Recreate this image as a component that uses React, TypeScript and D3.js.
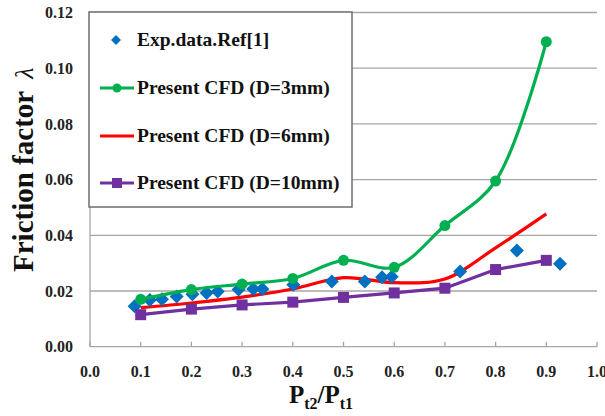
import React from "react";
import * as d3 from "d3";

const xTicks = [0, 0.1, 0.2, 0.3, 0.4, 0.5, 0.6, 0.7, 0.8, 0.9, 1.0];
const yTicks = [0, 0.02, 0.04, 0.06, 0.08, 0.1, 0.12];

const cfdX = [0.1, 0.2, 0.3, 0.4, 0.5, 0.6, 0.7, 0.8, 0.9];
const d3mm = [0.017, 0.0205, 0.0225, 0.0245, 0.031, 0.0285, 0.0435, 0.0595, 0.1095];
const d6mm = [0.014, 0.0157, 0.0178, 0.0207, 0.0248, 0.023, 0.0243, 0.0355, 0.0477];
const d10mm = [0.0115, 0.0135, 0.015, 0.016, 0.0177, 0.0193, 0.021, 0.0277, 0.031];

const expX = [0.088, 0.118, 0.142, 0.171, 0.202, 0.23, 0.252, 0.293, 0.322, 0.34, 0.401, 0.477, 0.542, 0.576, 0.595, 0.73, 0.842, 0.927];
const expY = [0.0145, 0.0168, 0.017, 0.018, 0.0188, 0.0193, 0.0198, 0.0205, 0.0207, 0.0207, 0.0222, 0.0234, 0.0234, 0.0249, 0.0251, 0.027, 0.0345, 0.0298];

const legendLabels = ["Exp.data.Ref[1]", "Present CFD (D=3mm)", "Present CFD (D=6mm)", "Present CFD (D=10mm)"];

const BLUE = "#0070C0";
const GREEN = "#00B050";
const RED = "#FF0000";
const PURPLE = "#7030A0";
const FONT = "'Liberation Serif', 'DejaVu Serif', serif";

export default function App() {
  const W = 605, H = 416;
  const x = d3.scaleLinear().domain([0, 1]).range([90, 597]);
  const y = d3.scaleLinear().domain([0, 0.12]).range([346.7, 12.5]);

  const smooth = d3.line<[number, number]>().x(d => x(d[0])).y(d => y(d[1])).curve(d3.curveCatmullRom.alpha(0.5));
  const straight = d3.line<[number, number]>().x(d => x(d[0])).y(d => y(d[1]));

  const pts = (ys: number[]) => cfdX.map((v, i) => [v, ys[i]] as [number, number]);
  const diamond = (s: number) => d3.symbol().type(d3.symbolSquare).size(s)() as string;

  const lx = 89, ly = 12, lw = 263, lh = 195;
  const rowY = [40, 88, 136, 183];

  return (
    <div style={{ fontFamily: FONT }}>
    <svg width={W} height={H} style={{ position: "absolute", left: 0, top: 0, background: "#fff", fontFamily: FONT }}>
      <rect x={0} y={0} width={W} height={H} fill="#fff" />
      {yTicks.filter(t => t > 0).map(t => (
        <line key={"g" + t} x1={x(0)} x2={x(1)} y1={y(t)} y2={y(t)} stroke="#a6a6a6" strokeWidth={1.3} />
      ))}
      <line x1={x(0)} x2={x(0)} y1={y(0.12)} y2={y(0)} stroke="#a6a6a6" strokeWidth={1.3} />
      <line x1={x(0)} x2={x(1)} y1={y(0)} y2={y(0)} stroke="#a6a6a6" strokeWidth={1.3} />
      {xTicks.map(t => (
        <line key={"xt" + t} x1={x(t)} x2={x(t)} y1={y(0) - 5} y2={y(0)} stroke="#a6a6a6" strokeWidth={1.3} />
      ))}
      {yTicks.map(t => (
        <text key={"yl" + t} x={73} y={y(t)} dy="0.35em" textAnchor="end" fontSize={16} fontWeight="bold" fill="#222">
          {t.toFixed(2)}
        </text>
      ))}
      {xTicks.map(t => (
        <text key={"xl" + t} x={x(t)} y={377} textAnchor="middle" fontSize={16} fontWeight="bold" fill="#222">
          {t.toFixed(1)}
        </text>
      ))}

      {/* series */}
      <path d={smooth(pts(d6mm)) || ""} fill="none" stroke={RED} strokeWidth={3.2} />
      {expX.map((v, i) => (
        <path key={"e" + i} d={diamond(98)} transform={`translate(${x(v)},${y(expY[i])}) rotate(45)`} fill={BLUE} />
      ))}
      <path d={smooth(pts(d3mm)) || ""} fill="none" stroke={GREEN} strokeWidth={3.2} />
      {cfdX.map((v, i) => (
        <circle key={"g" + i} cx={x(v)} cy={y(d3mm[i])} r={5.5} fill={GREEN} />
      ))}
      <path d={straight(pts(d10mm)) || ""} fill="none" stroke={PURPLE} strokeWidth={3.2} />
      {cfdX.map((v, i) => (
        <rect key={"p" + i} x={x(v) - 5.5} y={y(d10mm[i]) - 5.5} width={11} height={11} fill={PURPLE} />
      ))}

      {/* legend */}
      <rect x={lx} y={ly} width={lw} height={lh} fill="#fff" stroke="#6e6e6e" strokeWidth={1.5} />
      <path d={diamond(50)} transform={`translate(116,${rowY[0]}) rotate(45)`} fill={BLUE} />
      <line x1={100} x2={134} y1={rowY[1]} y2={rowY[1]} stroke={GREEN} strokeWidth={3.2} />
      <circle cx={117} cy={rowY[1]} r={4.5} fill={GREEN} />
      <line x1={100} x2={134} y1={rowY[2]} y2={rowY[2]} stroke={RED} strokeWidth={3.2} />
      <line x1={100} x2={134} y1={rowY[3]} y2={rowY[3]} stroke={PURPLE} strokeWidth={3.2} />
      <rect x={112} y={rowY[3] - 5} width={10} height={10} fill={PURPLE} />
      {legendLabels.map((l, i) => (
        <text key={l} x={137} y={rowY[i]} dy="0.33em" fontSize={19.5} fontWeight="bold" fill="#111">{l}</text>
      ))}

      {/* axis titles */}
      <text transform="translate(33,272) rotate(-90)" fontSize={29} fontWeight="bold" fill="#111">
        Friction factor
        <tspan dx={12} fontStyle="italic" fontWeight="normal" fontSize={26}>λ</tspan>
      </text>
      <text x={321} y={403} textAnchor="middle" fontSize={25} fontWeight="bold" fill="#111">
        P<tspan fontSize={16} dy={6}>t2</tspan><tspan dy={-6}>/P</tspan><tspan fontSize={16} dy={6}>t1</tspan>
      </text>
    </svg>
    </div>
  );
}
